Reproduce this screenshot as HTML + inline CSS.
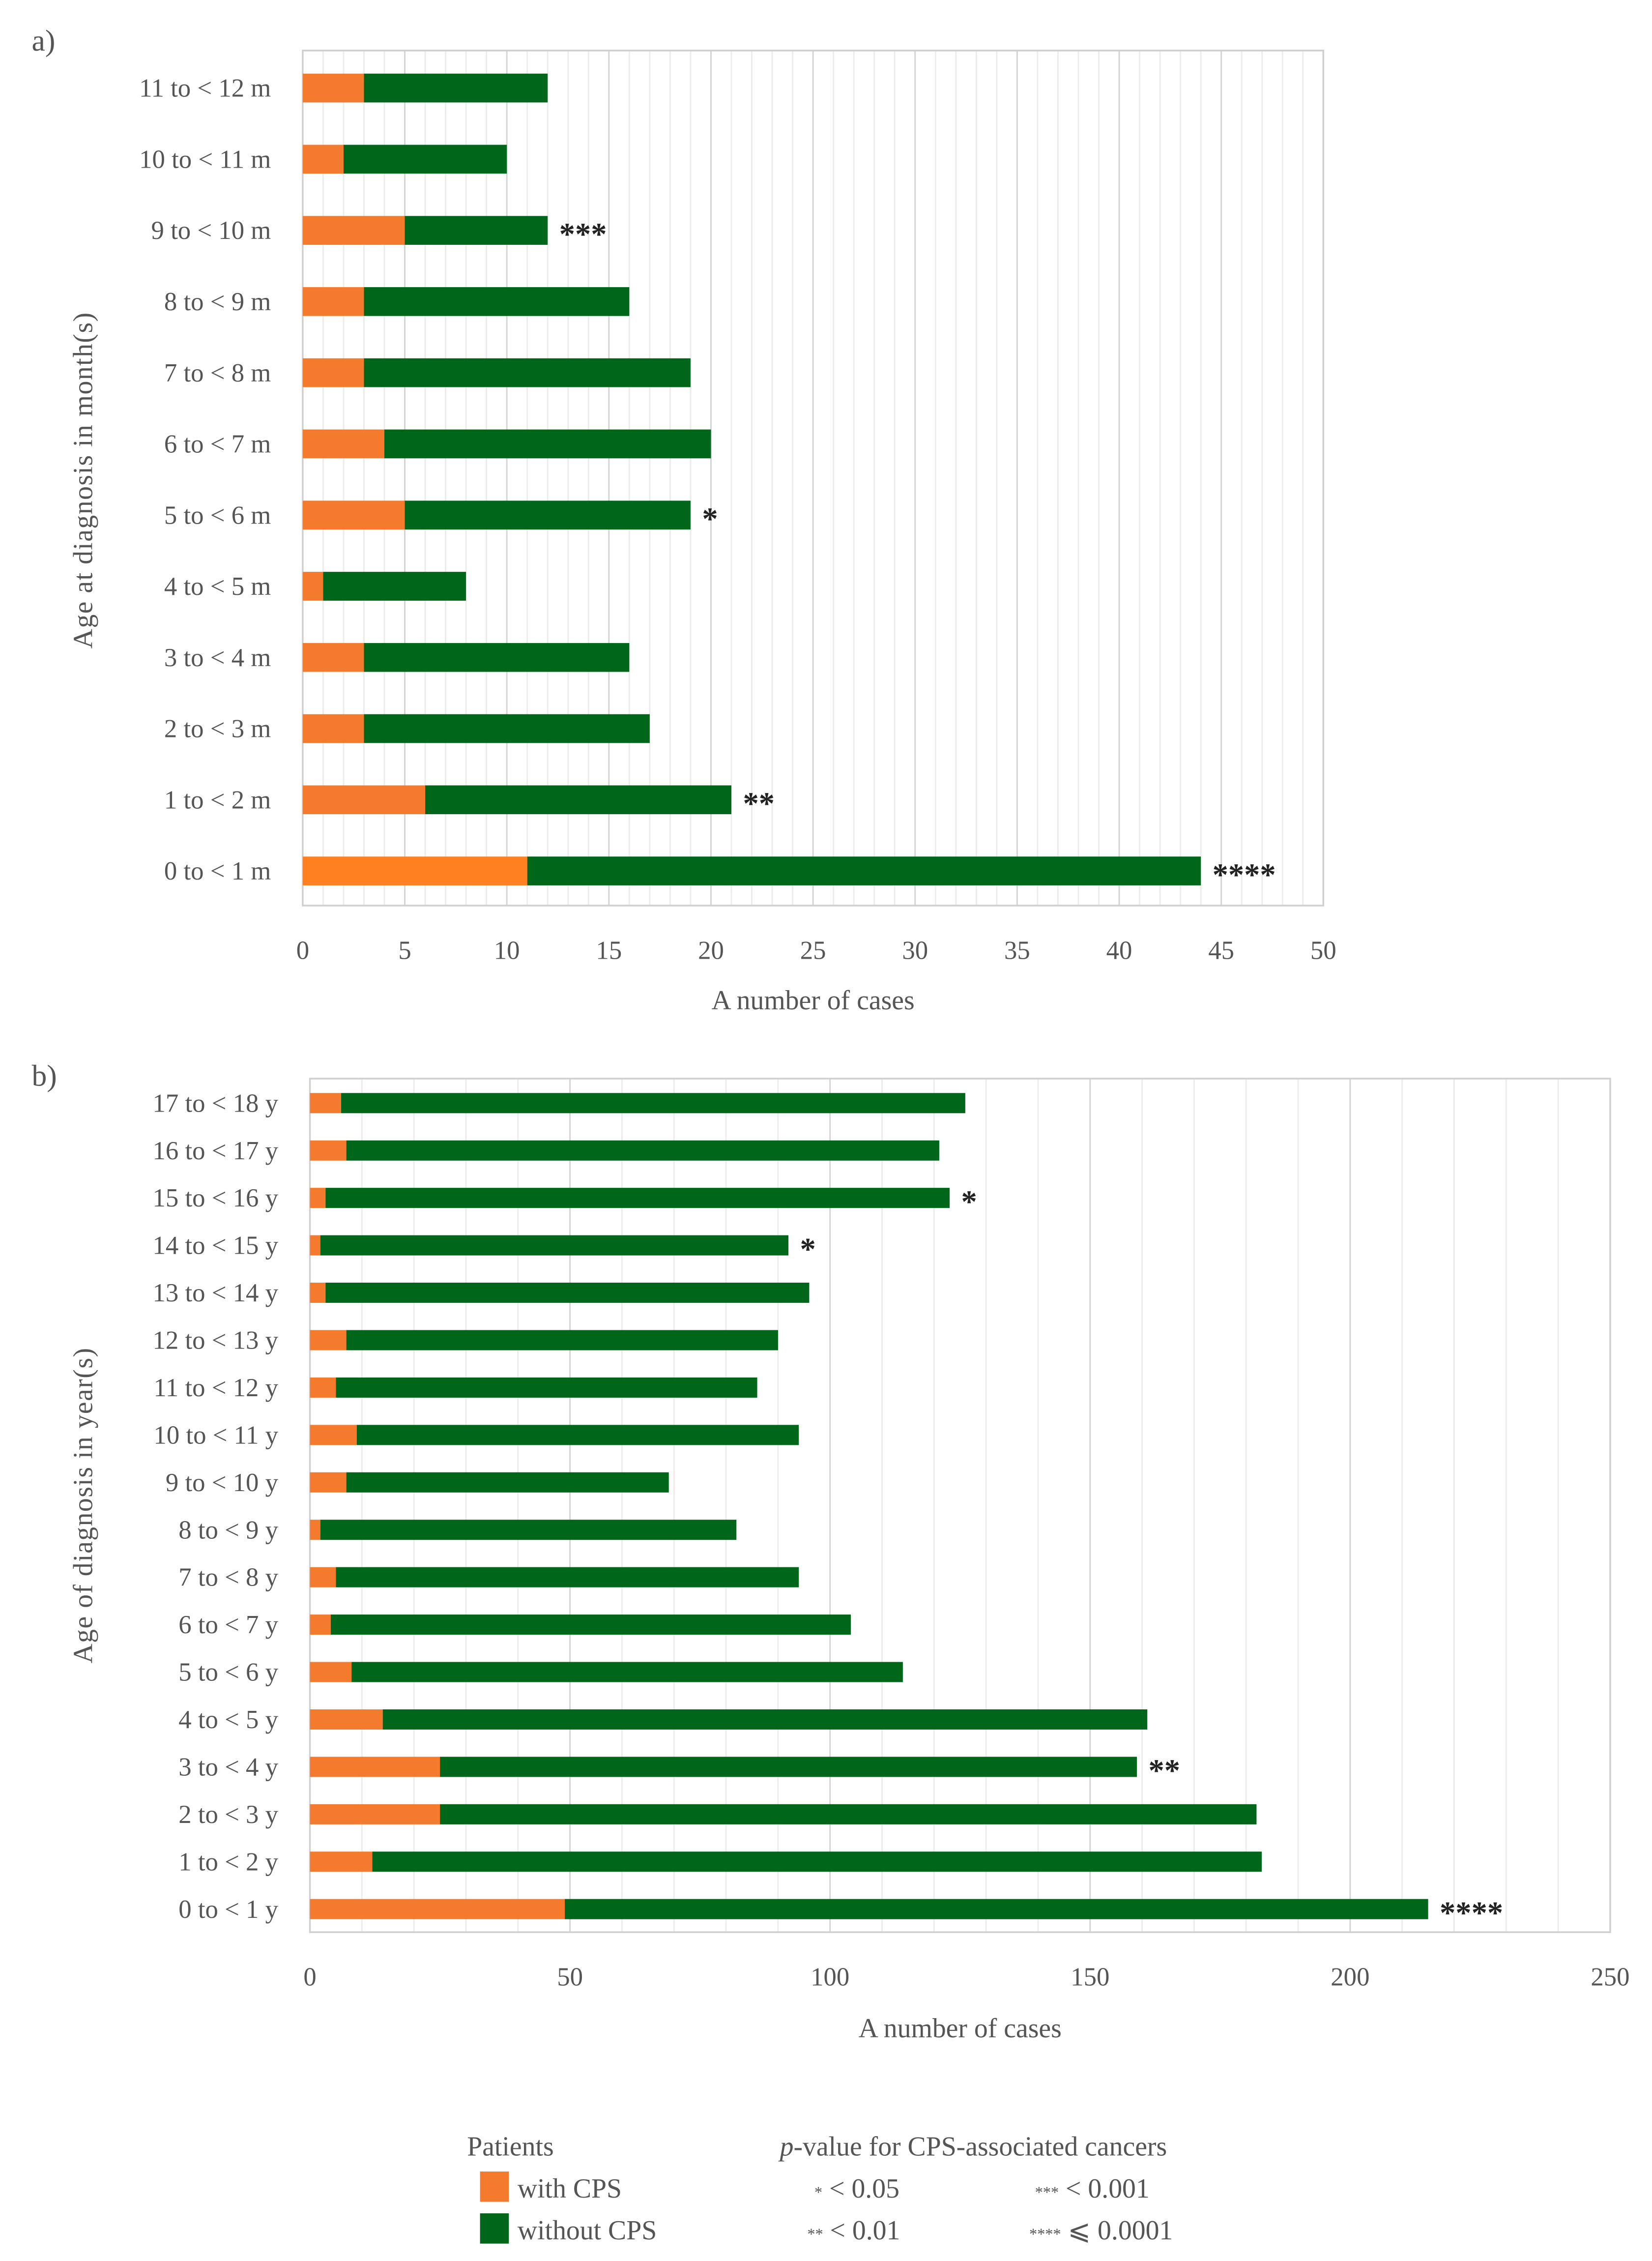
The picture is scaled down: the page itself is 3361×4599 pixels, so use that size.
<!DOCTYPE html>
<html><head><meta charset="utf-8"><style>
html,body{margin:0;padding:0;background:#fff}
svg{display:block}
text{font-family:"Liberation Serif",serif;fill:#555}
</style></head><body>
<svg id="svg" width="3361" height="4599" viewBox="0 0 1146 1568" xmlns="http://www.w3.org/2000/svg">
<text x="22" y="35" font-size="21">a)</text>
<text x="22" y="753" font-size="21">b)</text>
<g id="ga"></g>
<g id="gb"></g>
<g>
<text x="324" y="1495" font-size="19">Patients</text>
<rect x="333" y="1506" width="20" height="21" fill="#F47A2E"/>
<text x="359" y="1524" font-size="19">with CPS</text>
<rect x="333" y="1535" width="20" height="21" fill="#006619"/>
<text x="359" y="1553" font-size="19">without CPS</text>
<text x="541" y="1495" font-size="19"><tspan font-style="italic">p</tspan>-value for CPS-associated cancers</text>
<text x="565" y="1524" font-size="19"><tspan font-size="11">*</tspan> &lt; 0.05</text>
<text x="718" y="1524" font-size="19"><tspan font-size="11">***</tspan> &lt; 0.001</text>
<text x="560" y="1553" font-size="19"><tspan font-size="11">**</tspan> &lt; 0.01</text>
<text x="714" y="1553" font-size="19"><tspan font-size="11">****</tspan> ⩽ 0.0001</text>
</g>
</svg>
<script>
// Panel a data
const catsA = ["11 to < 12 m","10 to < 11 m","9 to < 10 m","8 to < 9 m","7 to < 8 m","6 to < 7 m","5 to < 6 m","4 to < 5 m","3 to < 4 m","2 to < 3 m","1 to < 2 m","0 to < 1 m"];
const withA = [3,2,5,3,3,4,5,1,3,3,6,11];
const withoutA = [9,8,7,13,16,16,14,7,13,14,15,33];
const starsA = ["","","***","","","","*","","","","**","****"];
const ticksA = [0,5,10,15,20,25,30,35,40,45,50];
// Panel b data
const catsB = ["17 to < 18 y","16 to < 17 y","15 to < 16 y","14 to < 15 y","13 to < 14 y","12 to < 13 y","11 to < 12 y","10 to < 11 y","9 to < 10 y","8 to < 9 y","7 to < 8 y","6 to < 7 y","5 to < 6 y","4 to < 5 y","3 to < 4 y","2 to < 3 y","1 to < 2 y","0 to < 1 y"];
const withB = [6,7,3,2,3,7,5,9,7,2,5,4,8,14,25,25,12,49];
const withoutB = [120,114,120,90,93,83,81,85,62,80,89,100,106,147,134,157,171,166];
const starsB = ["","","*","*","","","","","","","","","","","**","","","****"];
const ticksB = [0,50,100,150,200,250];

const NS="http://www.w3.org/2000/svg";
function mk(parent,tag,attrs){const e=document.createElementNS(NS,tag);for(const k in attrs)e.setAttribute(k,attrs[k]);parent.appendChild(e);return e;}

function chart(g,cfg){
  const {cats,w,wo,stars,ticks,x0,x1,max,top,bottom,first,last,bh,minor,major,lblX,tickY,titleY,ytitle,ytX,ytY,fs,orange0}=cfg;
  const sx=v=>x0+(x1-x0)*v/max;
  for(let v=0;v<=max;v+=minor){
    const ln=mk(g,'line',{x1:sx(v),x2:sx(v),y1:top,y2:bottom,stroke:(v%major===0)?'#d4d4d4':'#ececec','stroke-width':1});
    
    
  }
  const fr=mk(g,'rect',{x:x0,y:top,width:x1-x0,height:bottom-top,fill:'none',stroke:'#d0d0d0','stroke-width':1.2});
  
  
  const step=(last-first)/(cats.length-1);
  cats.forEach((c,i)=>{
    const cy=first+i*step;
    const lab=mk(g,'text',{x:lblX,y:cy+6,'text-anchor':'end','font-size':fs});
    lab.textContent=c;
    
    
    const r1=mk(g,'rect',{x:sx(0),y:cy-bh/2,width:sx(w[i])-sx(0),height:bh,fill:(i===cats.length-1&&orange0)?'#FF8020':'#F47A2E'});
    
    
    const r2=mk(g,'rect',{x:sx(w[i]),y:cy-bh/2,width:sx(w[i]+wo[i])-sx(w[i]),height:bh,fill:'#006619'});
    
    
    if(stars[i]){
      const s=mk(g,'text',{x:sx(w[i]+wo[i])+8,y:cy+10,'font-size':22,'font-weight':'bold',style:'fill:#222'});
      s.textContent=stars[i];
      
      
    }
  });
  ticks.forEach(t=>{
    const tl=mk(g,'text',{x:sx(t),y:tickY,'text-anchor':'middle','font-size':fs});
    tl.textContent=t;
    
    
  });
  const xt=mk(g,'text',{x:(x0+x1)/2,y:titleY,'text-anchor':'middle','font-size':fs+1});
  xt.textContent='A number of cases';
  
  
  const yt=mk(g,'text',{x:ytX,y:ytY,'text-anchor':'middle','font-size':fs+1,transform:`rotate(-90 ${ytX} ${ytY})`,'letter-spacing':'0.5'});
  yt.textContent=ytitle;
  
  
}
const ga=document.getElementById('ga');


chart(ga,{cats:catsA,w:withA,wo:withoutA,stars:starsA,ticks:ticksA,x0:210,x1:918,max:50,top:35,bottom:628,first:61,last:604,bh:20,minor:1,major:5,lblX:188,tickY:665,titleY:700,ytitle:'Age at diagnosis in month(s)',ytX:64,ytY:333,fs:18,orange0:true});
const gb=document.getElementById('gb');


chart(gb,{cats:catsB,w:withB,wo:withoutB,stars:starsB,ticks:ticksB,x0:215,x1:1117,max:250,top:748,bottom:1340,first:765,last:1324,bh:14,minor:10,major:50,lblX:193,tickY:1377,titleY:1413,ytitle:'Age of diagnosis in year(s)',ytX:64,ytY:1044,fs:18,orange0:false});
</script>
</body></html>
